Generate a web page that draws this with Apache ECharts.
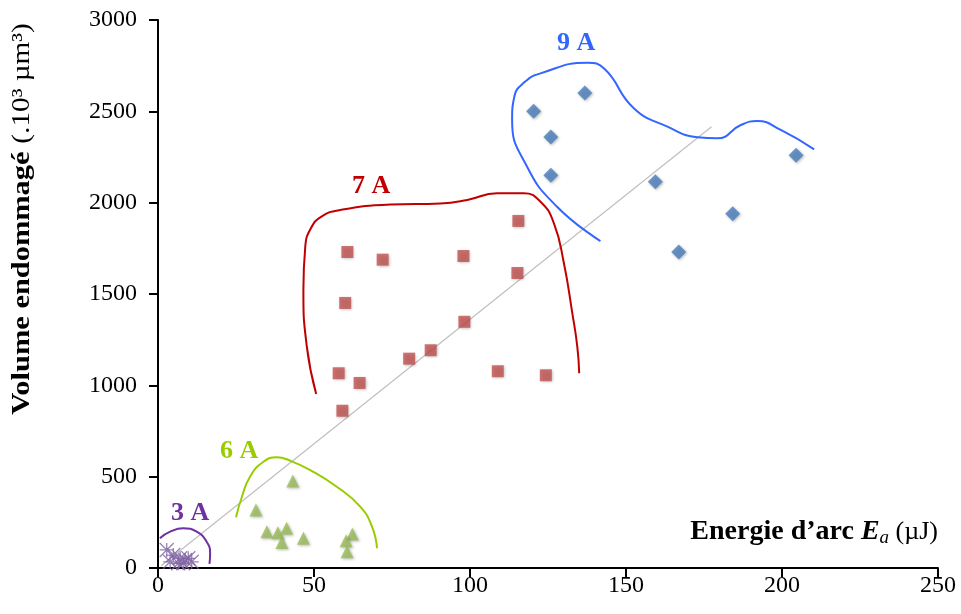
<!DOCTYPE html>
<html><head><meta charset="utf-8">
<script src="https://cdn.jsdelivr.net/npm/echarts@6/dist/echarts.min.js"></script>
<style>html,body{margin:0;padding:0;background:#fff}#c{width:961px;height:614px}</style>
</head><body><div id="c"></div>
<script>
// X ticks / Y ticks
const xTicks = [0, 50, 100, 150, 200, 250];
const yTicks = [0, 500, 1000, 1500, 2000, 2500, 3000];

// 9 A (blue diamonds)
const e9 = [120.4, 136.8, 125.9, 125.9, 159.4, 204.5, 184.2, 166.9];
const v9 = [2500, 2600, 2360, 2150, 2115, 2260, 1940, 1730];
// 7 A (red squares)
const e7 = [115.5, 60.7, 72.0, 97.9, 115.2, 60.0, 98.2, 87.4, 80.5, 57.9, 64.6, 108.9, 124.3, 59.1];
const v7 = [1900, 1730, 1688, 1708, 1615, 1451, 1348, 1192, 1146, 1066, 1013, 1077, 1055, 861];
// 6 A (green triangles)
const e6 = [43.2, 31.4, 34.9, 38.4, 41.2, 39.7, 46.6, 62.3, 60.3, 60.6];
const v6 = [476, 318, 199, 193, 217, 139, 163, 186, 149, 89];
// 3 A (purple stars)
const e3 = [2.8, 4.9, 7.1, 8.7, 9.7, 10.8, 6.5, 3.9, 8.1];
const v3 = [99, 71, 53, 44, 53, 34, 26, 34, 26];

// Trend line
const trendE = [1, 177.4];
const trendV = [12, 2416];

// Hand-drawn enclosure curves
const c9E = [141.8, 127.9, 118.3, 113.5, 114.2, 117.5, 122.6, 137.6, 142.9, 152.5, 163.3, 172.9, 179.3, 186.8, 192.1, 199.6, 210.3];
const c9V = [1790, 1978, 2197, 2453, 2580, 2660, 2708, 2766, 2736, 2517, 2416, 2358, 2352, 2425, 2447, 2398, 2292];
const c7E = [50.7, 47.7, 46.6, 47.2, 49.0, 52.5, 58.4, 74.5, 90.5, 99.1, 108.7, 117.2, 122.6, 126.9, 130.1, 132.8, 134.4, 135.0];
const c7V = [953, 1212, 1522, 1759, 1860, 1925, 1960, 1990, 1996, 2015, 2051, 2051, 2005, 1887, 1668, 1394, 1211, 1066];
const c6E = [25.0, 26.9, 29.5, 33.8, 38.1, 42.4, 48.8, 57.3, 64.8, 68.6, 70.2];
const c6V = [278, 390, 500, 582, 606, 587, 536, 445, 336, 226, 108];
const c3E = [0.6, 3.9, 8.1, 12.4, 15.6, 16.7, 16.5];
const c3V = [163, 199, 217, 199, 144, 80, 22];

const zip = (a, b) => a.map((v, i) => [v, b[i]]);
const serif = 'Liberation Serif';
const shadow = {shadowBlur: 3, shadowColor: 'rgba(0,0,0,0.35)', shadowOffsetX: 1, shadowOffsetY: 1};

const chart = echarts.init(document.getElementById('c'));
const axisCommon = {
  axisLine: {lineStyle: {color: '#000', width: 2}},
  axisTick: {length: 9, lineStyle: {color: '#000', width: 2}},
  splitLine: {show: false}
};
const lbl = (margin) => ({fontFamily: serif, fontSize: 24, color: '#000', margin, formatter: v => String(v)});
const curve = (name, e, v, color) => ({
  name, type: 'line', data: zip(e, v), smooth: 0.5, showSymbol: false, symbol: 'none',
  lineStyle: {color, width: 2}, z: 1, silent: true
});
const tag = (text, left, top, fill) => ({type: 'text', left, top,
  style: {text, font: 'bold 26px "Liberation Serif"', fill}});
chart.setOption({
  animation: false,
  grid: {left: 158, right: 23, top: 20, bottom: 46},
  xAxis: Object.assign({type: 'value', min: xTicks[0], max: xTicks[xTicks.length - 1], interval: 50}, axisCommon,
    {axisLabel: lbl(6)}),
  yAxis: Object.assign({type: 'value', min: yTicks[0], max: yTicks[yTicks.length - 1], interval: 500}, axisCommon,
    {axisLabel: lbl(21)}),
  series: [
    {type: 'line', data: zip(trendE, trendV), showSymbol: false, symbol: 'none', lineStyle: {color: '#BFBFBF', width: 1.2}, z: 1},
    curve('c9', c9E, c9V, '#3366FF'),
    curve('c7', c7E, c7V, '#C00000'),
    curve('c6', c6E, c6V, '#99CC00'),
    curve('c3', c3E, c3V, '#7030A0'),
    {name: '9 A', type: 'scatter', data: zip(e9, v9), symbol: 'diamond', symbolSize: 15,
      itemStyle: Object.assign({color: '#4A7EBB'}, shadow), z: 3},
    {name: '7 A', type: 'scatter', data: zip(e7, v7), symbol: 'rect', symbolSize: 12,
      itemStyle: Object.assign({color: '#C0504D'}, shadow), z: 3},
    {name: '6 A', type: 'scatter', data: zip(e6, v6), symbol: 'triangle', symbolSize: 13,
      itemStyle: Object.assign({color: '#9BBB59'}, shadow), z: 3},
    {name: '3 A', type: 'scatter', data: zip(e3, v3),
      symbol: 'path://M0,0L10,10M10,0L0,10M5,0L5,10M0,5L10,5', symbolSize: 14,
      itemStyle: {color: 'rgba(0,0,0,0)', borderColor: '#8064A2', borderWidth: 1.3}, z: 3}
  ],
  graphic: [
    tag('9 A', 557, 30, '#3366FF'),
    tag('7 A', 352, 173, '#C00000'),
    tag('6 A', 220, 438, '#99CC00'),
    tag('3 A', 171, 500, '#7030A0'),
    {type: 'text', x: 22, y: 219, rotation: Math.PI / 2, scaleX: 1.17,
      style: {
        text: '{b|Volume endommagé}  {n|(.10³ µm³)}',
        align: 'center', verticalAlign: 'middle',
        rich: {
          b: {fontFamily: serif, fontWeight: 'bold', fontSize: 26, fill: '#000'},
          n: {fontFamily: serif, fontSize: 25, fill: '#000'}
        }
      }},
    {type: 'text', x: 938, y: 532,
      style: {
        text: '{b|Energie d’arc }{i|E}{s|a}{n| (µJ)}',
        align: 'right', verticalAlign: 'middle',
        rich: {
          b: {fontFamily: serif, fontWeight: 'bold', fontSize: 28, fill: '#000'},
          i: {fontFamily: serif, fontWeight: 'bold', fontStyle: 'italic', fontSize: 28, fill: '#000'},
          s: {fontFamily: serif, fontStyle: 'italic', fontSize: 19, fill: '#000', padding: [12, 0, 0, 0]},
          n: {fontFamily: serif, fontSize: 26, fill: '#000'}
        }
      }}
  ]
});
</script></body></html>
